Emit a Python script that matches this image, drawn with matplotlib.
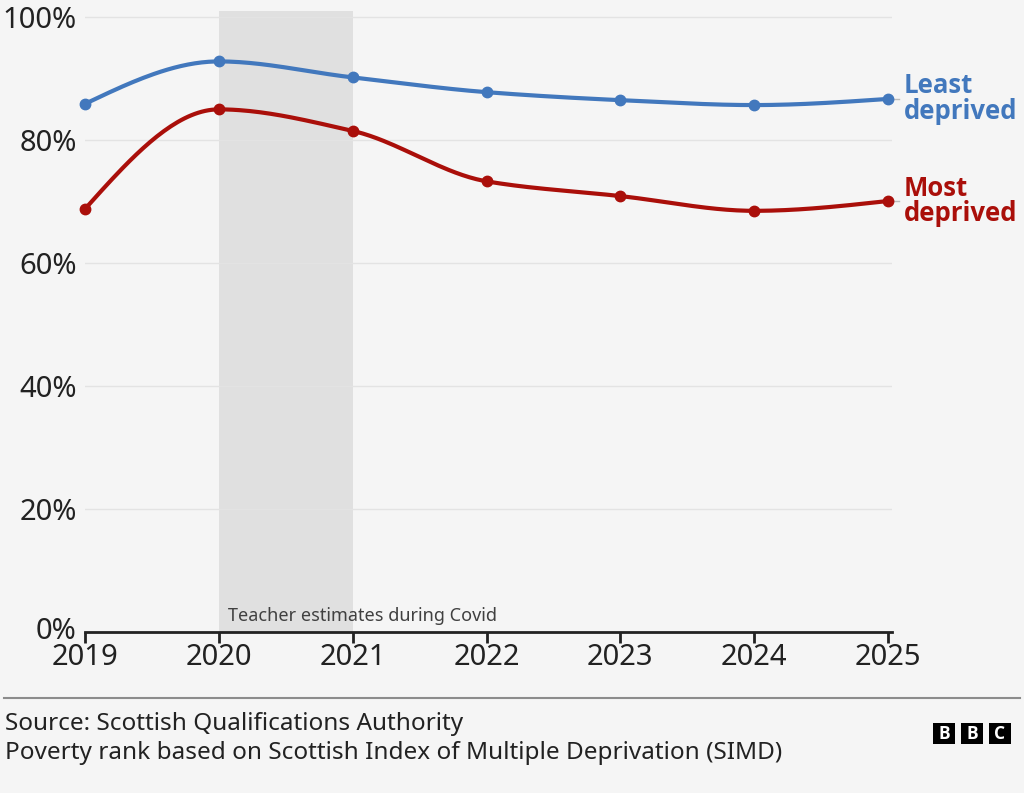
import numpy as np
import matplotlib
matplotlib.use("Agg")
import matplotlib.pyplot as plt
import matplotlib.transforms as mtransforms
from matplotlib.patches import Rectangle

# ----------------------------
# Data
# ----------------------------
years = [2019, 2020, 2021, 2022, 2023, 2024, 2025]
least_deprived = [85.9, 92.8, 90.2, 87.8, 86.5, 85.7, 86.7]
most_deprived = [68.8, 85.0, 81.5, 73.3, 70.9, 68.5, 70.1]
y_ticks = [0, 20, 40, 60, 80, 100]
covid_span = (2020, 2021)

BLUE = "#4278bd"
RED = "#aa0f0a"
BG = "#f5f5f5"
FONT = "Noto Sans"
BOLD_FONT = "Open Sans"

plt.rcParams['font.family'] = [FONT, 'DejaVu Sans']


# ----------------------------
# Monotone cubic curve through the points (like d3 curveMonotoneX)
# ----------------------------
def monotone_curve(x, y, n=40):
    x = np.asarray(x, float)
    y = np.asarray(y, float)
    h = np.diff(x)
    s = np.diff(y) / h
    m = np.zeros_like(y)
    for i in range(1, len(x) - 1):
        if s[i - 1] * s[i] <= 0:
            m[i] = 0
        else:
            m[i] = 3 * (h[i - 1] + h[i]) / ((2 * h[i] + h[i - 1]) / s[i - 1] + (h[i] + 2 * h[i - 1]) / s[i])
    # end tangents like d3
    m[0] = (3 * s[0] - m[1]) / 2 if s[0] * (3 * s[0] - m[1]) > 0 else 0
    m[-1] = (3 * s[-1] - m[-2]) / 2 if s[-1] * (3 * s[-1] - m[-2]) > 0 else 0
    xs, ys = [], []
    for i in range(len(x) - 1):
        t = np.linspace(0, 1, n)
        h00 = 2 * t**3 - 3 * t**2 + 1
        h10 = t**3 - 2 * t**2 + t
        h01 = -2 * t**3 + 3 * t**2
        h11 = t**3 - t**2
        xs.append(x[i] + t * h[i])
        ys.append(h00 * y[i] + h10 * h[i] * m[i] + h01 * y[i + 1] + h11 * h[i] * m[i + 1])
    return np.concatenate(xs), np.concatenate(ys)


W, H = 1024, 793
fig = plt.figure(figsize=(W / 100, H / 100), dpi=100, facecolor=BG)

ax_left, ax_right = 85, 892
ax_bottom, ax_top = 632, 11
ax = fig.add_axes([ax_left / W, 1 - ax_bottom / H, (ax_right - ax_left) / W, (ax_bottom - ax_top) / H])
ax.set_facecolor(BG)
ax.set_xlim(2019, 2019 + 6 * (ax_right - ax_left) / 803)
ax.set_ylim(0, 101)

# covid shading
ax.axvspan(covid_span[0], covid_span[1], ymin=0, ymax=1, color="#e0e0e0", zorder=0, lw=0)
ax.text(covid_span[0] + 0.07, 1.2, "Teacher estimates during Covid", fontsize=13,
        color="#404040", ha="left", va="bottom", zorder=3)

# grid
for t in y_ticks[1:]:
    ax.axhline(t, color="#e3e3e3", lw=1, zorder=1)

for vals, col in [(least_deprived, BLUE), (most_deprived, RED)]:
    cx, cy = monotone_curve(years, vals)
    ax.plot(cx, cy, color=col, lw=3, zorder=4, solid_capstyle="round", clip_on=False)
    ax.plot(years, vals, "o", color=col, ms=7.5, zorder=5, clip_on=False)
    ax.plot([years[-1], years[-1] + 0.08], [vals[-1], vals[-1]], color="#bbbbbb", lw=1,
            zorder=3, clip_on=False)

ax.text(years[-1] + 0.12, least_deprived[-1], "Least\ndeprived", color=BLUE, fontsize=18.5,
        family=[BOLD_FONT, 'DejaVu Sans'], fontweight="bold", ha="left", va="center",
        linespacing=0.95, clip_on=False)
ax.text(years[-1] + 0.12, most_deprived[-1], "Most\ndeprived", color=RED, fontsize=18.5,
        family=[BOLD_FONT, 'DejaVu Sans'], fontweight="bold", ha="left", va="center",
        linespacing=0.95, clip_on=False)

# axes styling
for sp in ["top", "right", "left"]:
    ax.spines[sp].set_visible(False)
ax.spines["bottom"].set_color("#222222")
ax.spines["bottom"].set_linewidth(2)
ax.spines["bottom"].set_zorder(6)
ax.set_xticks(years)
ax.set_xticklabels([str(y) for y in years], fontsize=21, color="#222222")
ax.tick_params(axis="x", length=8, width=2, color="#222222", pad=0)
ax.set_yticks(y_ticks)
ax.set_yticklabels([f"{t}%" for t in y_ticks], fontsize=21, color="#222222")
ax.tick_params(axis="y", length=0, pad=6)
# nudge the 0% label up a touch so it sits clear of the 2019 label
zero_lbl = ax.get_yticklabels()[0]
zero_lbl.set_transform(zero_lbl.get_transform() +
                       mtransforms.ScaledTranslation(0, 4 / 100, fig.dpi_scale_trans))

# footer
fig.add_artist(plt.Line2D([4 / W, 1020 / W], [1 - 698 / H, 1 - 698 / H], color="#8c8c8c", lw=1.5))
fig.text(5 / W, 1 - 724 / H, "Source: Scottish Qualifications Authority", fontsize=17.5,
         color="#222222", ha="left", va="center")
fig.text(5 / W, 1 - 753 / H, "Poverty rank based on Scottish Index of Multiple Deprivation (SIMD)",
         fontsize=17.5, color="#222222", ha="left", va="center")

# BBC logo
for i, letter in enumerate("BBC"):
    x0 = 933 + i * 28
    fig.add_artist(Rectangle((x0 / W, 1 - 744 / H), 22 / W, 21 / H, transform=fig.transFigure,
                             color="black", lw=0))
    fig.text((x0 + 11) / W, 1 - 734 / H, letter, color="white", fontsize=12.5,
             family=[BOLD_FONT, 'DejaVu Sans'], fontweight="bold", ha="center", va="center")

fig.savefig("out.png", dpi=100, facecolor=BG)
